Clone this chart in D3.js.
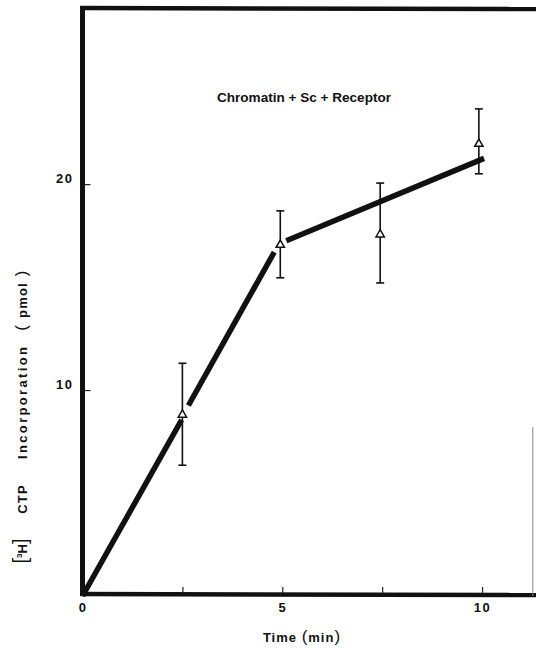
<!DOCTYPE html>
<html>
<head>
<meta charset="utf-8">
<script src="https://cdn.jsdelivr.net/npm/d3@7"></script>
<style>
  body { margin: 0; background: #fff; }
  svg { display: block; }
  text { font-family: "Liberation Sans", Arial, sans-serif; font-weight: bold; fill: #111; }
</style>
</head>
<body>
<svg id="chart" width="536" height="648"></svg>
<script>
// measured points (time in min, [3H]CTP in pmol)
const times = [2.5, 4.95, 7.45, 9.92];
const means = [8.8, 17.05, 17.55, 21.95];
const errLow = [6.35, 15.45, 15.2, 20.5];
const errHigh = [11.3, 18.7, 20.05, 23.65];

// hand-drawn trend line, broken around the markers
const segX0 = [0, 2.65, 5.1];
const segY0 = [0, 9.25, 17.25];
const segX1 = [2.48, 4.8, 10.05];
const segY1 = [8.55, 16.7, 21.25];

const xTicks = [0, 2.5, 5, 7.5, 10];
const xLabels = {0: '0', 5: '5', 10: '10'};
const yTicks = [10, 20];

const svg = d3.select('#chart');

const x = d3.scaleLinear().domain([0, 11.35]).range([82.5, 536]);
const y = d3.scaleLinear().domain([0, 28.55]).range([596, 8]);

// frame
const frame = svg.append('g').attr('stroke', '#111').attr('fill', 'none');
frame.append('line')
    .attr('x1', x(0)).attr('x2', x(0))
    .attr('y1', y(28.55) - 2).attr('y2', y(0))
    .attr('stroke-width', 5);
frame.append('line')
    .attr('x1', x(0) - 2).attr('x2', x(11.35))
    .attr('y1', y(28.55)).attr('y2', y(28.55) + 1)
    .attr('stroke-width', 4.5);
frame.append('line')
    .attr('x1', x(0) - 2).attr('x2', x(11.35))
    .attr('y1', y(0) - 2).attr('y2', y(0) - 1)
    .attr('stroke-width', 4.5);
frame.append('line')
    .attr('x1', x(11.27)).attr('x2', x(11.27))
    .attr('y1', y(8.2)).attr('y2', y(0))
    .attr('stroke', '#888').attr('stroke-width', 1);

// x axis
const xAxis = svg.append('g')
    .attr('transform', `translate(0,${y(0) - 3})`)
    .call(d3.axisBottom(x)
        .tickValues(xTicks)
        .tickSizeInner(-6)
        .tickSizeOuter(0)
        .tickPadding(10)
        .tickFormat(d => xLabels[d] || ''));
xAxis.select('.domain').remove();
xAxis.selectAll('.tick line').attr('stroke', '#222').attr('stroke-width', 1.2);
xAxis.selectAll('.tick text')
    .attr('font-size', 13).attr('letter-spacing', 1.5)
    .attr('font-family', null).attr('fill', '#111');

// y axis
const yAxis = svg.append('g')
    .attr('transform', `translate(${x(0) + 2},0)`)
    .call(d3.axisLeft(y)
        .tickValues(yTicks)
        .tickSizeInner(-6)
        .tickSizeOuter(0)
        .tickPadding(11));
yAxis.select('.domain').remove();
yAxis.selectAll('.tick line').attr('stroke', '#222').attr('stroke-width', 1.2);
yAxis.selectAll('.tick text')
    .attr('font-size', 13).attr('letter-spacing', 1.5)
    .attr('font-family', null).attr('fill', '#111')
    .attr('dy', '-0.1em');

// trend line
svg.append('g')
    .selectAll('line')
    .data(segX0)
    .join('line')
    .attr('x1', (d, i) => x(segX0[i]))
    .attr('y1', (d, i) => y(segY0[i]))
    .attr('x2', (d, i) => x(segX1[i]))
    .attr('y2', (d, i) => y(segY1[i]))
    .attr('stroke', '#111')
    .attr('stroke-width', 5.5);

// error bars
const bars = svg.append('g').attr('stroke', '#111').attr('stroke-width', 1.6);
bars.selectAll('.stem')
    .data(times)
    .join('line')
    .attr('class', 'stem')
    .attr('x1', d => x(d)).attr('x2', d => x(d))
    .attr('y1', (d, i) => y(errLow[i])).attr('y2', (d, i) => y(errHigh[i]));
bars.selectAll('.capHi')
    .data(times)
    .join('line')
    .attr('class', 'capHi')
    .attr('x1', d => x(d) - 4).attr('x2', d => x(d) + 4)
    .attr('y1', (d, i) => y(errHigh[i])).attr('y2', (d, i) => y(errHigh[i]));
bars.selectAll('.capLo')
    .data(times)
    .join('line')
    .attr('class', 'capLo')
    .attr('x1', d => x(d) - 4).attr('x2', d => x(d) + 4)
    .attr('y1', (d, i) => y(errLow[i])).attr('y2', (d, i) => y(errLow[i]));

// open triangles
svg.append('g')
    .selectAll('path')
    .data(times)
    .join('path')
    .attr('d', d3.symbol(d3.symbolTriangle, 30))
    .attr('transform', (d, i) => `translate(${x(d)},${y(means[i])})`)
    .attr('fill', '#fff')
    .attr('stroke', '#111')
    .attr('stroke-width', 1.5);

// title inside the plot
svg.append('text')
    .attr('x', 304).attr('y', 102)
    .attr('text-anchor', 'middle')
    .attr('font-size', 13.5)
    .attr('textLength', 174)
    .attr('lengthAdjust', 'spacingAndGlyphs')
    .text('Chromatin + Sc + Receptor');

// x title
const xt = svg.append('text')
    .attr('x', 302).attr('y', 642)
    .attr('text-anchor', 'middle')
    .attr('font-size', 13)
    .attr('letter-spacing', 1);
xt.append('tspan').text('Time ');
xt.append('tspan').attr('font-size', 17).attr('font-weight', 'normal').text('(');
xt.append('tspan').text('min');
xt.append('tspan').attr('font-size', 17).attr('font-weight', 'normal').text(')');

// y title, pieces spread along the axis
const yl = svg.append('g').attr('transform', 'translate(27,0) rotate(-90)');
const h3 = yl.append('text').attr('x', -551).attr('text-anchor', 'middle').attr('font-size', 13);
h3.append('tspan').attr('font-size', 20).attr('font-weight', 'normal').text('[');
h3.append('tspan').attr('font-size', 8).attr('dy', -5).text('3');
h3.append('tspan').attr('dy', 5).text('H');
h3.append('tspan').attr('font-size', 20).attr('font-weight', 'normal').text(']');
yl.append('text').attr('x', -499).attr('text-anchor', 'middle')
    .attr('font-size', 13).attr('letter-spacing', 1.2).text('CTP');
yl.append('text').attr('x', -403).attr('text-anchor', 'middle')
    .attr('font-size', 13)
    .attr('textLength', 112).attr('lengthAdjust', 'spacing')
    .text('Incorporation');
const pm = yl.append('text').attr('x', -300).attr('text-anchor', 'middle').attr('font-size', 13).attr('letter-spacing', 1.2);
pm.append('tspan').attr('font-size', 17).attr('font-weight', 'normal').text('( ');
pm.append('tspan').text('pmol');
pm.append('tspan').attr('font-size', 17).attr('font-weight', 'normal').text(' )');
</script>
</body>
</html>
